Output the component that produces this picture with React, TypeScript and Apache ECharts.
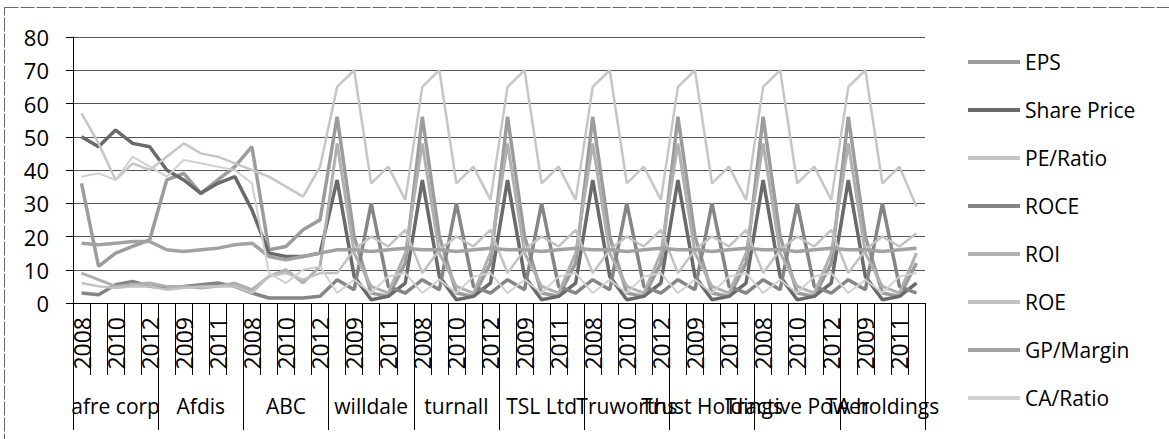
import React, { useEffect, useRef } from "react";
import * as echarts from "echarts";

const groups = [
  "afre corp", "Afdis", "ABC", "willdale", "turnall",
  "TSL Ltd", "Truworths", "Trust Holdings", "Tractive Power", "TA holdings",
];
const years = ["2008", "2009", "2010", "2011", "2012"];
const yTicks = { min: 0, max: 80, interval: 10 };

const seriesNames = ["EPS", "Share Price", "PE/Ratio", "ROCE", "ROI", "ROE", "GP/Margin", "CA/Ratio"];

const eps = [
  36, 11, 15, 17, 19, 37, 39, 33, 37, 41, 47, 16, 17, 22, 25,
  56, 20, 3, 2, 12, 56, 20, 3, 2, 12, 56, 20, 3, 2, 12, 56, 20, 3, 2, 12,
  56, 20, 3, 2, 12, 56, 20, 3, 2, 12, 56, 20, 3, 2, 12,
];
const sharePrice = [
  50, 47, 52, 48, 47, 40, 37, 33, 36, 38, 28, 15, 14, 14, 15,
  37, 8, 1, 2, 6, 37, 8, 1, 2, 6, 37, 8, 1, 2, 6, 37, 8, 1, 2, 6,
  37, 8, 1, 2, 6, 37, 8, 1, 2, 6, 37, 8, 1, 2, 6,
];
const peRatio = [
  57, 48, 37, 42, 40, 44, 48, 45, 44, 42, 40, 38, 35, 32, 41,
  65, 70, 36, 41, 31, 65, 70, 36, 41, 31, 65, 70, 36, 41, 31, 65, 70, 36, 41, 31,
  65, 70, 36, 41, 31, 65, 70, 36, 41, 31, 65, 70, 36, 41, 29,
];
const roce = [
  3, 2.5, 5.5, 6.5, 5, 4.5, 5, 5.5, 6, 5, 3, 1.5, 1.5, 1.5, 2,
  7, 4, 30, 5, 3, 7, 4, 30, 5, 3, 7, 4, 30, 5, 3, 7, 4, 30, 5, 3,
  7, 4, 30, 5, 3, 7, 4, 30, 5, 3, 7, 4, 30, 5, 3,
];
const roi = [
  9, 7, 5, 5.5, 6, 5, 5, 4.5, 5, 6, 4, 8, 10, 6, 11,
  48, 15, 5, 3, 15, 48, 15, 5, 3, 15, 48, 15, 5, 3, 15, 48, 15, 5, 3, 15,
  48, 15, 5, 3, 15, 48, 15, 5, 3, 15, 48, 15, 5, 3, 15,
];
const roe = [
  6, 5, 4.5, 5, 5, 4, 4.5, 5, 5, 5, 3, 8, 9, 7, 9,
  9, 16, 20, 17, 22, 9, 16, 20, 17, 22, 9, 16, 20, 17, 22, 9, 16, 20, 17, 22,
  9, 16, 20, 17, 22, 9, 16, 20, 17, 22, 9, 16, 20, 17, 21,
];
const gpMargin = [
  18, 17.5, 18, 18.5, 18.5, 16, 15.5, 16, 16.5, 17.5, 18, 14, 13, 14, 15,
  16, 16, 15.5, 16, 16.5, 16, 16, 15.5, 16, 16.5, 16, 16, 15.5, 16, 16.5, 16, 16, 15.5, 16, 16.5,
  16, 16, 15.5, 16, 16.5, 16, 16, 15.5, 16, 16.5, 16, 16, 15.5, 16, 16.5,
];
const caRatio = [
  38, 39, 37, 44, 41, 38, 43, 42, 41, 40, 36, 9, 6, 10, 11,
  3, 7, 3, 8, 9, 3, 7, 3, 8, 9, 3, 7, 3, 8, 9, 3, 7, 3, 8, 9,
  3, 7, 3, 8, 9, 3, 7, 3, 8, 9, 3, 7, 3, 8, 9,
];

const seriesData = [eps, sharePrice, peRatio, roce, roi, roe, gpMargin, caRatio];
const seriesColors = ["#9c9c9c", "#6a6a6a", "#c6c6c6", "#858585", "#b0b0b0", "#c2c2c2", "#a2a2a2", "#d0d0d0"];
const seriesWidths = [3.5, 3.5, 2.5, 3.5, 3, 2.5, 3.5, 2];

const FONT = "Open Sans";

export default function App() {
  const ref = useRef<HTMLDivElement>(null);
  useEffect(() => {
    if (!ref.current) return;
    const chart = echarts.init(ref.current, null, { renderer: "svg" });
    const catKeys = groups.flatMap((g) => years.map((y) => `${g}|${y}`));
    chart.setOption({
      animation: false,
      textStyle: { fontFamily: FONT, color: "#000" },
      grid: { left: 73, right: 244, top: 37, bottom: 136, containLabel: false },
      graphic: [
        {
          type: "rect",
          silent: true,
          shape: { x: 4.5, y: 7.5, width: 1200, height: 500 },
          style: { fill: "none", stroke: "#666", lineWidth: 1, lineDash: [14, 2] },
        },
      ],
      legend: {
        orient: "vertical",
        left: 963,
        top: 46,
        icon: "rect",
        itemWidth: 52,
        itemHeight: 4,
        itemGap: 26,
        data: seriesNames,
        textStyle: { fontSize: 21, lineHeight: 22, color: "#000", fontFamily: FONT },
      },
      xAxis: [
        {
          type: "category",
          data: catKeys,
          boundaryGap: true,
          axisLine: { onZero: false, lineStyle: { color: "#000", width: 1 } },
          axisTick: { show: true, interval: 0, length: 72, lineStyle: { color: "#000" } },
          axisLabel: {
            interval: 1,
            rotate: 90,
            fontSize: 23,
            margin: 14,
            color: "#000",
            fontFamily: FONT,
            formatter: (v: string) => v.split("|")[1],
          },
          splitLine: { show: false },
        },
        {
          type: "category",
          data: groups,
          position: "bottom",
          boundaryGap: true,
          axisLine: { show: false, onZero: false },
          axisTick: { show: true, interval: 0, length: 127, lineStyle: { color: "#000" } },
          axisLabel: { interval: 0, fontSize: 21, margin: 92, color: "#000", fontFamily: FONT, hideOverlap: false },
          splitLine: { show: false },
        },
      ],
      yAxis: {
        type: "value",
        min: yTicks.min,
        max: yTicks.max,
        interval: yTicks.interval,
        axisLine: { show: true, lineStyle: { color: "#000" } },
        axisTick: { show: true, length: 7, lineStyle: { color: "#000" } },
        axisLabel: { fontSize: 22, margin: 24, color: "#000", fontFamily: FONT },
        splitLine: { show: true, lineStyle: { color: "#555", width: 1 } },
      },
      series: seriesNames.map((name, i) => ({
        name,
        type: "line",
        xAxisIndex: 0,
        data: seriesData[i],
        showSymbol: false,
        symbol: "none",
        color: seriesColors[i],
        lineStyle: { color: seriesColors[i], width: seriesWidths[i] },
        itemStyle: { color: seriesColors[i] },
      })),
    });
    return () => chart.dispose();
  }, []);
  return (
    <div
      ref={ref}
      style={{ position: "absolute", left: 0, top: 0, width: 1169, height: 439, background: "#fff" }}
    />
  );
}
